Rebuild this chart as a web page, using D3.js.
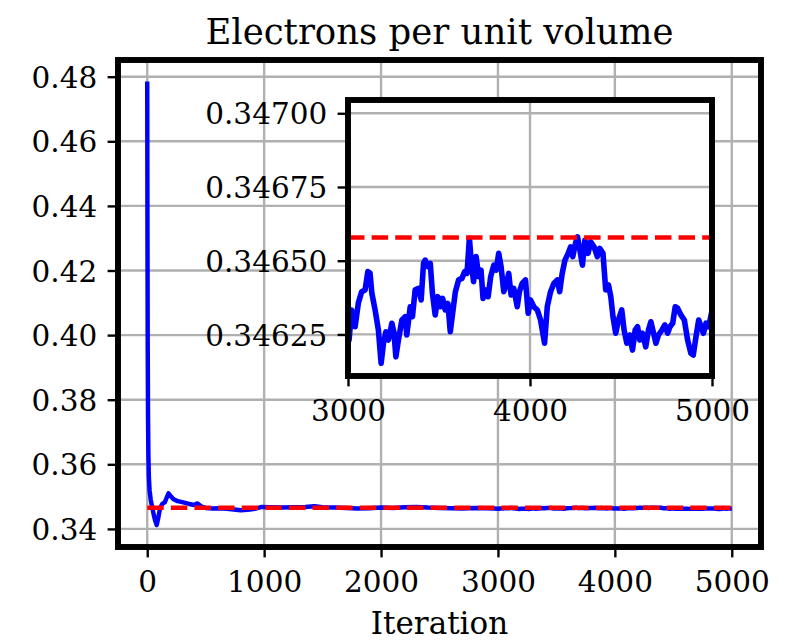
<!DOCTYPE html>
<html>
<head>
<meta charset="utf-8">
<script src="https://cdn.jsdelivr.net/npm/d3@7"></script>
<style>
  html, body { margin: 0; padding: 0; background: #ffffff; }
  svg { display: block; }
  text { font-family: "DejaVu Serif", serif; fill: #000; }
</style>
</head>
<body>
<div id="chart"></div>
<script>
// ---------------- data ----------------
const titleText = "Electrons per unit volume";
const xLabelText = "Iteration";

const mainXTicks = [0, 1000, 2000, 3000, 4000, 5000];
const mainYTicks = [0.34, 0.36, 0.38, 0.40, 0.42, 0.44, 0.46, 0.48];
const insetXTicks = [3000, 4000, 5000];
const insetYTicks = [0.34625, 0.34650, 0.34675, 0.34700];

const meanValue = 0.346579;

// burn-in part
const earlyIter  = [0, 2, 4, 7, 10, 14, 20, 30, 42, 55, 68, 81, 95, 110, 130, 150, 165, 182, 200, 225, 260, 300, 350, 400, 430, 460, 500, 560, 620, 680, 740, 800, 860, 920, 980];
const earlyValue = [0.4785, 0.432, 0.398, 0.374, 0.363, 0.356, 0.352, 0.3490, 0.3468, 0.3445, 0.3425, 0.3412, 0.3435, 0.3465, 0.3478, 0.3482, 0.3495, 0.3510, 0.3502, 0.3492, 0.3486, 0.3483, 0.3478, 0.3474, 0.3479, 0.3470, 0.3465, 0.3463, 0.3464, 0.3462, 0.3460, 0.3458, 0.3459, 0.3462, 0.3468];

// middle part
const midIter  = [1050, 1150, 1250, 1350, 1430, 1500, 1600, 1700, 1800, 1900, 2000, 2100, 2200, 2300, 2400, 2500, 2600, 2700, 2800, 2900, 2960];
const midValue = [0.3467, 0.3466, 0.3467, 0.3468, 0.3470, 0.3467, 0.3466, 0.3465, 0.3463, 0.3464, 0.3466, 0.3465, 0.3467, 0.3468, 0.3466, 0.3465, 0.3464, 0.3463, 0.3465, 0.3464, 0.3463];

// last part (shown in the inset)
const lateIter = [3000, 3006, 3020, 3039, 3057, 3075, 3094, 3109, 3121, 3131, 3149, 3167, 3182, 3195, 3208, 3222, 3241, 3253, 3263, 3277, 3296, 3314, 3323, 3342, 3354, 3369, 3387, 3402, 3415, 3424, 3439, 3452, 3464, 3479, 3494, 3507, 3520, 3534, 3549, 3562, 3575, 3590, 3608, 3626, 3641, 3654, 3667, 3678, 3690, 3704, 3718, 3731, 3742, 3755, 3770, 3784, 3801, 3814, 3828, 3841, 3856, 3869, 3883, 3896, 3911, 3930, 3942, 3957, 3975, 3990, 4003, 4021, 4040, 4058, 4080, 4095, 4113, 4131, 4150, 4163, 4177, 4192, 4210, 4223, 4235, 4250, 4261, 4274, 4288, 4302, 4319, 4333, 4352, 4370, 4383, 4401, 4416, 4431, 4444, 4456, 4471, 4486, 4504, 4517, 4532, 4548, 4563, 4578, 4591, 4603, 4618, 4636, 4651, 4664, 4679, 4692, 4706, 4725, 4741, 4756, 4769, 4784, 4798, 4811, 4829, 4848, 4866, 4884, 4897, 4912, 4927, 4940, 4953, 4967, 4982, 4995, 5000];
const lateValue = [0.346240, 0.346231, 0.346333, 0.346276, 0.346357, 0.346395, 0.346401, 0.346463, 0.346458, 0.346390, 0.346333, 0.346265, 0.346152, 0.346220, 0.346259, 0.346231, 0.346288, 0.346255, 0.346174, 0.346231, 0.346299, 0.346310, 0.346248, 0.346344, 0.346310, 0.346401, 0.346406, 0.346367, 0.346491, 0.346502, 0.346480, 0.346491, 0.346389, 0.346316, 0.346378, 0.346344, 0.346372, 0.346333, 0.346355, 0.346259, 0.346322, 0.346395, 0.346435, 0.346440, 0.346463, 0.346457, 0.346576, 0.346491, 0.346429, 0.346514, 0.346446, 0.346468, 0.346372, 0.346401, 0.346378, 0.346446, 0.346485, 0.346468, 0.346525, 0.346480, 0.346395, 0.346418, 0.346457, 0.346384, 0.346406, 0.346344, 0.346395, 0.346423, 0.346435, 0.346322, 0.346367, 0.346344, 0.346333, 0.346299, 0.346220, 0.346344, 0.346395, 0.346423, 0.346435, 0.346395, 0.346457, 0.346502, 0.346525, 0.346547, 0.346514, 0.346559, 0.346581, 0.346536, 0.346485, 0.346570, 0.346525, 0.346564, 0.346547, 0.346514, 0.346542, 0.346525, 0.346401, 0.346418, 0.346378, 0.346310, 0.346254, 0.346299, 0.346333, 0.346265, 0.346220, 0.346248, 0.346197, 0.346265, 0.346276, 0.346231, 0.346254, 0.346208, 0.346265, 0.346293, 0.346254, 0.346220, 0.346248, 0.346265, 0.346282, 0.346254, 0.346276, 0.346288, 0.346344, 0.346339, 0.346316, 0.346299, 0.346231, 0.346186, 0.346180, 0.346242, 0.346299, 0.346276, 0.346254, 0.346288, 0.346276, 0.346316, 0.346330];

// ---------------- drawing ----------------
const W = 793, H = 640;
const PT = 2.97;                  // pixels per point
const TICK_LEN = 3.5 * PT, TICK_PAD = 3.5 * PT;
const SPINE_W = 2 * PT, GRID_W = 0.8 * PT, TICK_W = 0.8 * PT;
const LINE_W = 1.5 * PT;
const FS = 29.5, TITLE_FS = 35.5, XLABEL_FS = 31;

const svg = d3.select("#chart").append("svg").attr("width", W).attr("height", H);
svg.append("rect").attr("width", W).attr("height", H).attr("fill", "#fff");

const seriesAll = [];
earlyIter.forEach((it, i) => seriesAll.push([it, earlyValue[i]]));
midIter.forEach((it, i) => seriesAll.push([it, midValue[i]]));
lateIter.forEach((it, i) => seriesAll.push([it, lateValue[i]]));
const seriesLate = lateIter.map((it, i) => [it, lateValue[i]]);

function drawAxes(cfg) {
  const { left, right, top, bottom, xDomain, yDomain, xTicks, yTicks, xFmt, yFmt, data, meanX, id, blueW } = cfg;
  const x = d3.scaleLinear().domain(xDomain).range([left, right]);
  const y = d3.scaleLinear().domain(yDomain).range([bottom, top]);
  const g = svg.append("g");

  g.append("rect").attr("x", left).attr("y", top).attr("width", right - left).attr("height", bottom - top).attr("fill", "#fff");

  g.append("clipPath").attr("id", id).append("rect")
    .attr("x", left).attr("y", top).attr("width", right - left).attr("height", bottom - top);

  // grid
  const grid = g.append("g").attr("stroke", "#b0b0b0").attr("stroke-width", GRID_W);
  xTicks.forEach(t => grid.append("line").attr("x1", x(t)).attr("x2", x(t)).attr("y1", top).attr("y2", bottom));
  yTicks.forEach(t => grid.append("line").attr("x1", left).attr("x2", right).attr("y1", y(t)).attr("y2", y(t)));

  const plot = g.append("g").attr("clip-path", `url(#${id})`);
  const line = d3.line().x(d => x(d[0])).y(d => y(d[1]));
  plot.append("path").datum(data).attr("d", line)
    .attr("fill", "none").attr("stroke", "#0000ff").attr("stroke-width", blueW)
    .attr("stroke-linejoin", "round").attr("stroke-linecap", "butt");
  plot.append("path").datum(meanX.map(v => [v, meanValue])).attr("d", line)
    .attr("fill", "none").attr("stroke", "#ff0000").attr("stroke-width", LINE_W)
    .attr("stroke-dasharray", `${3.7 * LINE_W},${1.6 * LINE_W}`);

  // spines
  g.append("rect").attr("x", left).attr("y", top).attr("width", right - left).attr("height", bottom - top)
    .attr("fill", "none").attr("stroke", "#000").attr("stroke-width", SPINE_W);

  // axes with d3
  const xAxis = d3.axisBottom(x).tickValues(xTicks).tickFormat(xFmt).tickSize(TICK_LEN).tickPadding(TICK_PAD);
  const yAxis = d3.axisLeft(y).tickValues(yTicks).tickFormat(yFmt).tickSize(TICK_LEN).tickPadding(TICK_PAD);
  const xg = g.append("g").attr("transform", `translate(0,${bottom + SPINE_W / 2 - 0.5})`).call(xAxis);
  const yg = g.append("g").attr("transform", `translate(${left - SPINE_W / 2 + 0.5},0)`).call(yAxis);
  [xg, yg].forEach(a => {
    a.select(".domain").remove();
    a.selectAll(".tick line").attr("stroke", "#000").attr("stroke-width", TICK_W);
    a.selectAll(".tick text").attr("font-family", "DejaVu Serif").attr("font-size", FS).attr("fill", "#000");
  });
  xg.selectAll(".tick line").attr("y2", TICK_LEN - SPINE_W / 2 + 0.5);
  xg.selectAll(".tick text").attr("dy", null).attr("y", 45 - SPINE_W / 2 + 0.5).attr("dominant-baseline", "alphabetic");
  yg.selectAll(".tick line").attr("x2", -(TICK_LEN - SPINE_W / 2 + 0.5));
  yg.selectAll(".tick text").attr("x", -(TICK_LEN + TICK_PAD - SPINE_W / 2 + 0.5)).attr("dy", "0.36em");
  return { x, y };
}

// main axes
drawAxes({
  id: "clipMain",
  left: 118, right: 761, top: 60, bottom: 547,
  xDomain: [-250, 5250], yDomain: [0.3344, 0.48517],
  xTicks: mainXTicks, yTicks: mainYTicks,
  xFmt: d3.format("d"), yFmt: d3.format(".2f"),
  data: seriesAll, meanX: [0, 5000], blueW: LINE_W
});

// title and x label
svg.append("text").attr("x", (118 + 761) / 2).attr("y", 44).attr("text-anchor", "middle")
  .attr("font-size", TITLE_FS).text(titleText);
svg.append("text").attr("x", (118 + 761) / 2).attr("y", 634).attr("text-anchor", "middle")
  .attr("font-size", XLABEL_FS).text(xLabelText);

// inset axes
drawAxes({
  id: "clipInset",
  left: 348, right: 712, top: 100, bottom: 376,
  xDomain: [3000, 5000], yDomain: [0.346109, 0.347045],
  xTicks: insetXTicks, yTicks: insetYTicks,
  xFmt: d3.format("d"), yFmt: d3.format(".5f"),
  data: seriesLate, meanX: [3000, 5000], blueW: 5.6
});
</script>
</body>
</html>
